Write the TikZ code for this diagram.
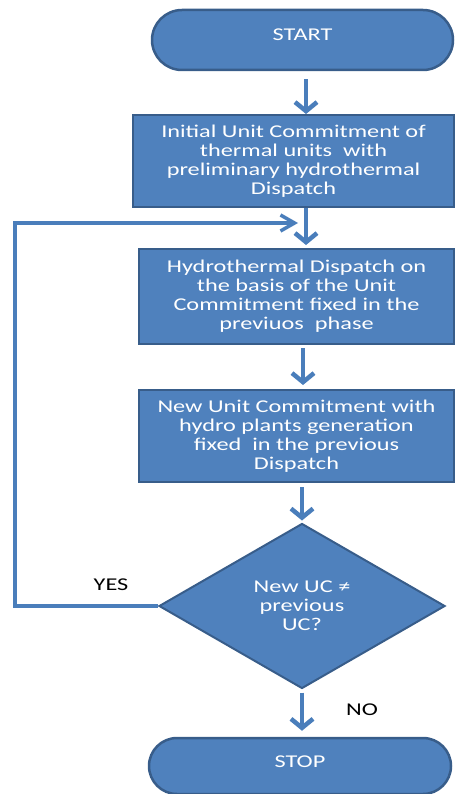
\documentclass[tikz,border=0pt]{standalone}
\usepackage{fontspec}
\setmainfont{Carlito}[FakeStretch=1.35]
\usepackage{tikz}
\usetikzlibrary{calc, arrows.meta, shapes.geometric, shapes.misc}
\definecolor{boxblue}{HTML}{4F81BD}
\definecolor{edgeblue}{HTML}{385D8A}
\definecolor{flowblue}{HTML}{4A7EBB}

\begin{document}
\begin{tikzpicture}[x=1pt, y=-1pt,
  every node/.style={font=\fontsize{18}{19}\selectfont},
  box/.style={rectangle, draw=edgeblue, line width=2pt, fill=boxblue, text=white, align=center, inner sep=0pt},
  term/.style={rounded rectangle, draw=edgeblue, line width=2.5pt, fill=boxblue, text=white, inner sep=0pt, text height=12pt, text depth=10pt},
  test/.style={diamond, draw=edgeblue, line width=2pt, fill=boxblue, text=white, align=center, inner sep=0pt},
  lbl/.style={text=black},
  flow/.style={flowblue, line width=4.5pt, -{Straight Barb[length=9pt,width=22pt]}},
  back/.style={flowblue, line width=3.5pt, -{Straight Barb[length=14pt,width=16pt]}}]
\useasboundingbox (0,0) rectangle (455,794);
\node[term, minimum width=301pt, minimum height=60pt] (start) at (302.5,40) {START};
\node[box, minimum width=321pt, minimum height=92pt] (init) at (293.5,161) {Initial Unit Commitment of\\thermal units\ \ with\\preliminary hydrothermal\\Dispatch};
\node[box, minimum width=315pt, minimum height=95pt] (proc) at (296.5,296.5) {Hydrothermal Dispatch on\\the basis of the Unit\\Commitment fixed in the\\previuos\ \ phase};
\node[box, minimum width=315pt, minimum height=92pt] (upd) at (296.5,436) {New Unit Commitment with\\hydro plants generation\\fixed\ \ in the previous\\Dispatch};
\node[test, minimum width=286pt, minimum height=165pt] (dec) at (302,606) {New UC ≠\\previous\\UC?};
\node[term, minimum width=302pt, minimum height=56pt] (stop) at (300,766) {STOP};
\node[lbl] (yes) at (111,585) {YES};
\node[lbl] (no) at (362,710) {NO};
\coordinate (corner) at (15,223);
\draw[flow] ($(start.south)+(3.5,8)$) -- ($(start.south |- init.north)+(3.5,0)$);
\draw[flow] ($(start |- init.south)+(3.5,0)$) -- ($(start |- proc.north)+(3.5,-3)$);
\draw[flow] ($(dec |- proc.south)+(1,3)$) -- ($(dec |- upd.north)+(1,-4)$);
\draw[flow] ($(dec |- upd.south)+(0,4)$) -- ($(dec.north)+(0,-2)$);
\draw[flow] ($(dec.south)+(0,3)$) -- ($(stop.north -| dec)+(0,-6)$);
\draw[back] (dec.west) -- (dec.west -| corner) -- (corner) -- ($(corner -| start)+(-4.5,0)$);
\end{tikzpicture}
\end{document}
